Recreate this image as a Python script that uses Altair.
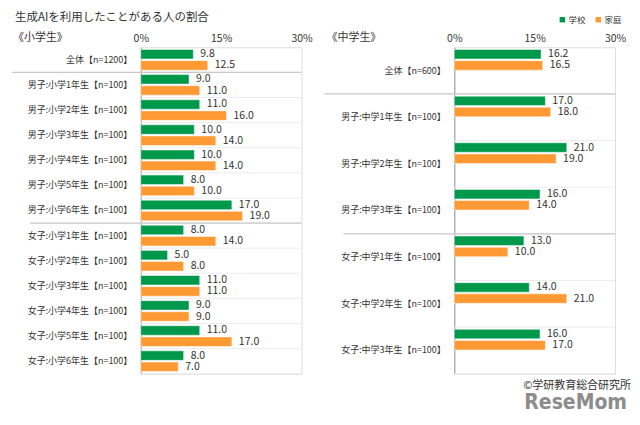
import altair as alt
import pandas as pd

FONT = "Noto Sans CJK JP"
series = ["学校", "家庭"]
colors = ["#00984A", "#FF9933"]

chart_title = "生成AIを利用したことがある人の割合"
credit = "©学研教育総合研究所"
brand = "ReseMom"

elem_header = "《小学生》"
elem_cats = ["全体【n=1200】",
             "男子:小学1年生【n=100】", "男子:小学2年生【n=100】", "男子:小学3年生【n=100】",
             "男子:小学4年生【n=100】", "男子:小学5年生【n=100】", "男子:小学6年生【n=100】",
             "女子:小学1年生【n=100】", "女子:小学2年生【n=100】", "女子:小学3年生【n=100】",
             "女子:小学4年生【n=100】", "女子:小学5年生【n=100】", "女子:小学6年生【n=100】"]
elem_school = [9.8, 9.0, 11.0, 10.0, 10.0, 8.0, 17.0, 8.0, 5.0, 11.0, 9.0, 11.0, 8.0]
elem_home = [12.5, 11.0, 16.0, 14.0, 14.0, 10.0, 19.0, 14.0, 8.0, 11.0, 9.0, 17.0, 7.0]
elem_seps = ["全体【n=1200】", "男子:小学6年生【n=100】"]

jh_header = "《中学生》"
jh_cats = ["全体【n=600】",
           "男子:中学1年生【n=100】", "男子:中学2年生【n=100】", "男子:中学3年生【n=100】",
           "女子:中学1年生【n=100】", "女子:中学2年生【n=100】", "女子:中学3年生【n=100】"]
jh_school = [16.2, 17.0, 21.0, 16.0, 13.0, 14.0, 16.0]
jh_home = [16.5, 18.0, 19.0, 14.0, 10.0, 21.0, 17.0]
jh_seps = ["全体【n=600】", "男子:中学3年生【n=100】"]

x_ticks = [0, 15, 30]

W = 161
H = 327


def panel(cats, school, home, seps, sep_starts, header, pi, po, legend, extra_text):
    long = pd.DataFrame({
        "cat": cats * 2,
        "series": [series[0]] * len(cats) + [series[1]] * len(cats),
        "value": school + home,
    })
    catdf = pd.DataFrame({"cat": cats})
    yaxis = alt.Axis(title=None, labelFont=FONT, labelFontSize=9, labelColor="#333",
                     labelPadding=9, ticks=False, domainColor="#999", labelLimit=200)
    yscale = alt.Scale(paddingInner=0, paddingOuter=0)

    def Y(band=0.5):
        return alt.Y("cat:N", sort=cats, scale=yscale, axis=yaxis, bandPosition=band)

    xscale = alt.Scale(domain=[0, 30], nice=False)
    xaxis = alt.Axis(title=None, orient="top", values=x_ticks, labelExpr="datum.value + '%'",
                     labelFlush=False, grid=False, ticks=False, domain=False,
                     labelFont=FONT, labelFontSize=10.5, labelColor="#333", labelPadding=4)
    yoff = alt.YOffset("series:N", sort=series,
                       scale=alt.Scale(paddingInner=pi, paddingOuter=po))
    color = alt.Color("series:N", sort=series,
                      scale=alt.Scale(domain=series, range=colors), legend=legend)

    grid = alt.Chart(catdf).mark_rule(color="#ececec", strokeWidth=1).encode(
        y=Y(1), x=alt.value(0), x2=alt.value(W))
    bars = alt.Chart(long).mark_bar(stroke="white", strokeWidth=0.5).encode(
        y=Y(), yOffset=yoff,
        x=alt.X("value:Q", scale=xscale, axis=xaxis),
        color=color)
    labels = alt.Chart(long).mark_text(align="left", baseline="middle", dx=7,
                                       font=FONT, fontSize=10.5, color="#333").encode(
        y=Y(), yOffset=yoff,
        x=alt.X("value:Q", scale=xscale, axis=xaxis),
        text=alt.Text("value:Q", format=".1f"))
    layers = [grid, bars, labels]
    for s, start in zip(seps, sep_starts):
        layers.append(alt.Chart(pd.DataFrame({"cat": [s]})).mark_rule(
            color="#c8c8c8", strokeWidth=1.2).encode(
            y=Y(1), x=alt.value(start), x2=alt.value(W)))
    hdr = alt.Chart(pd.DataFrame({"t": [header]})).mark_text(
        align="left", baseline="middle", font=FONT, fontSize=11, color="#333").encode(
        text="t:N", x=alt.value(-128), y=alt.value(-9))
    layers.append(hdr)
    layers.extend(extra_text)
    return alt.layer(*layers).properties(width=W, height=H)


legend = alt.Legend(orient="none", legendX=418, legendY=-32, direction="horizontal",
                    title=None, symbolType="square", symbolSize=30, labelFont=FONT,
                    labelFontSize=8.5, labelColor="#333", columnPadding=8, labelOffset=2,
                    symbolStrokeWidth=0)

title_mark = alt.Chart(pd.DataFrame({"t": [chart_title]})).mark_text(
    align="left", baseline="middle", font=FONT, fontSize=11.5, color="#333").encode(
    text="t:N", x=alt.value(-126), y=alt.value(-29))

credit_mark = alt.Chart(pd.DataFrame({"t": [credit]})).mark_text(
    align="right", baseline="middle", font=FONT, fontSize=11, color="#333").encode(
    text="t:N", x=alt.value(177), y=alt.value(339))
brand_mark = alt.Chart(pd.DataFrame({"t": [brand]})).mark_text(
    align="right", baseline="middle", font="DejaVu Sans Condensed", fontSize=21,
    fontWeight="bold", color="#8c8c8c").encode(
    text="t:N", x=alt.value(173), y=alt.value(356))

left = panel(elem_cats, elem_school, elem_home, elem_seps, [-129, -111], elem_header,
             0.15, 0.2, legend, [title_mark])
right = panel(jh_cats, jh_school, jh_home, jh_seps, [-130, -111], jh_header,
              0.18, 0.22, legend, [credit_mark, brand_mark])

chart = alt.hconcat(left, right, spacing=9).properties(
    padding={"left": 2, "top": 3, "right": 0, "bottom": 0}
).configure_view(stroke="#e3e3e3").configure(font=FONT)

chart.save("out.html", embed_options={"renderer": "svg", "actions": False})
